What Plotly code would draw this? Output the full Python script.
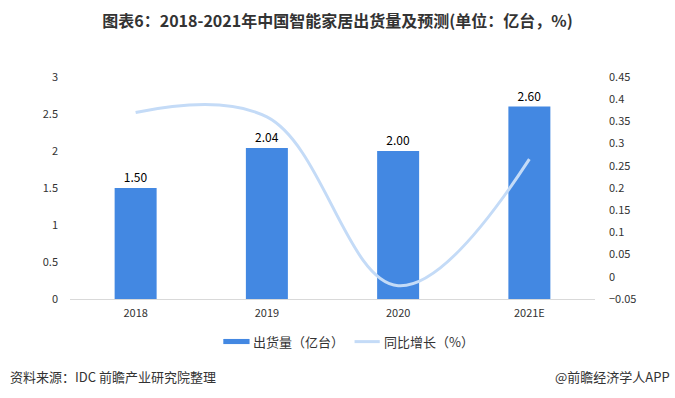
import plotly.graph_objects as go

categories = ["2018", "2019", "2020", "2021E"]
shipments = [1.50, 2.04, 2.00, 2.60]
growth = [0.37, 0.36, -0.02, 0.265]
left_ticks = [0, 0.5, 1, 1.5, 2, 2.5, 3]
right_ticks = [-0.05, 0, 0.05, 0.1, 0.15, 0.2, 0.25, 0.3, 0.35, 0.4, 0.45]
bar_name = "出货量（亿台）"
line_name = "同比增长（%）"
title_text = "图表6：2018-2021年中国智能家居出货量及预测(单位：亿台，%)"
source_text = "资料来源：IDC 前瞻产业研究院整理"
brand_text = "@前瞻经济学人APP"

BAR_COLOR = "#4388E2"
LINE_COLOR = "#C4DBF7"
FONT = "Noto Sans CJK SC, Microsoft YaHei, sans-serif"

fig = go.Figure()
fig.add_trace(go.Bar(
    x=categories, y=shipments, name=bar_name,
    marker=dict(color=BAR_COLOR, line=dict(width=0)),
    texttemplate="%{y:.2f}", textposition="outside",
    textfont=dict(size=12, color="#000000", family=FONT),
    cliponaxis=False, showlegend=False,
))
fig.add_trace(go.Scatter(
    x=categories, y=growth, name=line_name, yaxis="y2", mode="lines",
    line=dict(color=LINE_COLOR, width=3, shape="spline", smoothing=1.1),
    cliponaxis=False, showlegend=False,
))

fig.update_layout(
    width=675, height=398,
    margin=dict(l=70, r=80, t=77, b=99),
    paper_bgcolor="white", plot_bgcolor="white",
    font=dict(family=FONT, color="#333333", size=11),
    bargap=0.68,
    title=dict(text=f"<b>{title_text}</b>", x=0.5, xanchor="center",
               y=1 - 21 / 398, yanchor="middle",
               font=dict(size=16, color="#333333", family=FONT)),
    xaxis=dict(showline=True, linecolor="#D9D9D9", linewidth=1, ticks="",
               showgrid=False, tickfont=dict(size=11, color="#333333"),
               ticklabelstandoff=4),
    yaxis=dict(range=[0, 3], tickvals=left_ticks, showgrid=False, zeroline=False,
               showline=False, tickfont=dict(size=11, color="#333333"),
               ticklabelstandoff=11),
    yaxis2=dict(range=[-0.05, 0.45], tickvals=right_ticks, overlaying="y", side="right",
                showgrid=False, zeroline=False, showline=False,
                tickfont=dict(size=11, color="#333333"), ticklabelstandoff=13),
    showlegend=False,
)

# manual legend
fig.add_shape(type="rect", xref="paper", yref="paper",
              x0=0.292, x1=0.342, y0=-0.180, y1=-0.203,
              fillcolor=BAR_COLOR, line=dict(width=0))
fig.add_annotation(xref="paper", yref="paper", x=0.345, y=-0.192,
                   text=bar_name, showarrow=False, xanchor="left", yanchor="middle",
                   font=dict(size=13, color="#333333", family=FONT))
fig.add_shape(type="line", xref="paper", yref="paper",
              x0=0.542, x1=0.590, y0=-0.192, y1=-0.192,
              line=dict(color=LINE_COLOR, width=3))
fig.add_annotation(xref="paper", yref="paper", x=0.594, y=-0.192,
                   text=line_name, showarrow=False, xanchor="left", yanchor="middle",
                   font=dict(size=13, color="#333333", family=FONT))

# footer
fig.add_annotation(xref="paper", yref="paper", x=(8 - 70) / 525, y=-0.351,
                   text=source_text, showarrow=False, xanchor="left", yanchor="middle",
                   font=dict(size=13, color="#333333", family=FONT))
fig.add_annotation(xref="paper", yref="paper", x=(672 - 70) / 525, y=-0.351,
                   text=brand_text, showarrow=False, xanchor="right", yanchor="middle",
                   font=dict(size=13, color="#333333", family=FONT))

fig.write_html("out.html",
               config={"displayModeBar": False},
               post_script="document.body.style.margin='0';document.body.style.overflow='hidden';")
